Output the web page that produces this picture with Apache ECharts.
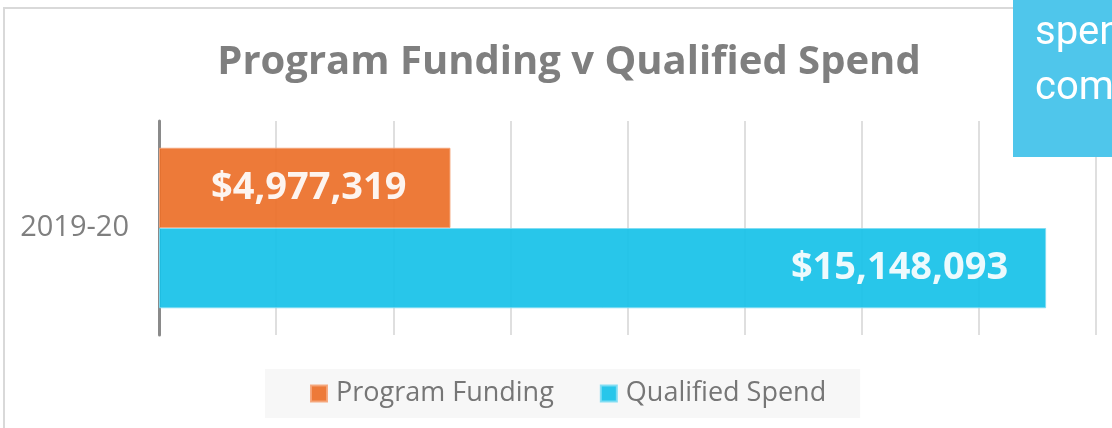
<!DOCTYPE html>
<html>
<head>
<meta charset="utf-8">
<script src="https://cdn.jsdelivr.net/npm/echarts@6/dist/echarts.min.js"></script>
<style>
  html, body { margin: 0; padding: 0; background: #fff; }
  #chart { width: 1112px; height: 428px; }
</style>
</head>
<body>
<div id="chart"></div>
<script>
// data
var categories = ['2019-20'];
var seriesNames = ['Program Funding', 'Qualified Spend'];
var programFunding = [4977319];
var qualifiedSpend = [15148093];
var axisMin = 0, axisMax = 16000000, axisStep = 2000000;
var noteLines = ['spen', 'com'];   // clipped callout box text, top right

function money(v) {
    return '$' + Number(v).toLocaleString('en-US');
}

var dom = document.getElementById('chart');
var myChart = echarts.init(dom);

var option = {
    animation: false,
    title: {
        text: 'Program Funding v Qualified Spend',
        left: 564,
        textAlign: 'center',
        top: 38,
        textStyle: {
            fontFamily: 'Open Sans',
            fontSize: 40,
            fontWeight: 'bold',
            color: '#7f7f7f'
        }
    },
    legend: {
        data: seriesNames,
        left: 265,
        bottom: 10,
        padding: [11, 34, 11, 45],
        backgroundColor: '#f7f7f7',
        itemWidth: 16,
        itemHeight: 16,
        itemGap: 46,
        icon: 'rect',
        textStyle: {
            fontFamily: 'Open Sans',
            fontSize: 27,
            color: '#767676',
            padding: [0, 0, 0, 4]
        }
    },
    grid: {
        left: 159,
        right: 16,
        top: 121,
        bottom: 93
    },
    xAxis: {
        type: 'value',
        min: axisMin,
        max: axisMax,
        interval: axisStep,
        axisLabel: { show: false },
        axisLine: { show: false },
        axisTick: { show: false },
        splitLine: { lineStyle: { color: '#d4d4d4', width: 1.5 } }
    },
    yAxis: {
        type: 'category',
        data: categories,
        inverse: true,
        axisTick: { show: false },
        axisLine: { lineStyle: { color: '#8a8a8a', width: 3 } },
        axisLabel: {
            margin: 30,
            fontFamily: 'Open Sans',
            fontSize: 29,
            color: '#7f7f7f'
        }
    },
    series: [
        {
            name: seriesNames[0],
            type: 'bar',
            data: programFunding,
            barGap: '0%',
            barCategoryGap: '25%',
            itemStyle: { color: '#ec6f28', opacity: 0.92, borderColor: '#f5a478', borderWidth: 1 },
            label: {
                show: true,
                position: 'inside',
                offset: [4, 0],
                formatter: function (p) { return money(p.value); },
                fontFamily: 'Open Sans',
                fontSize: 38,
                fontWeight: 'bold',
                color: '#fff'
            }
        },
        {
            name: seriesNames[1],
            type: 'bar',
            data: qualifiedSpend,
            itemStyle: { color: '#16c1e8', opacity: 0.92, borderColor: '#7fdcf3', borderWidth: 1 },
            label: {
                show: true,
                position: 'insideRight',
                distance: 38,
                formatter: function (p) { return money(p.value); },
                fontFamily: 'Open Sans',
                fontSize: 38,
                fontWeight: 'bold',
                color: '#fff'
            }
        }
    ],
    graphic: [
        {   // chart frame
            type: 'rect',
            z: -1,
            shape: { x: 4, y: 8, width: 1200, height: 500 },
            style: { fill: 'none', stroke: '#d9d9d9', lineWidth: 2 }
        },
        {   // callout box over the top right corner
            type: 'rect',
            z: 100,
            shape: { x: 1013, y: 0, width: 120, height: 157 },
            style: { fill: '#4fc6eb' }
        },
        {
            type: 'text',
            z: 101,
            left: 1035,
            top: 6,
            style: {
                text: noteLines.join('\n'),
                fontFamily: 'Roboto',
                fontSize: 40,
                lineHeight: 55,
                fill: '#fff'
            }
        }
    ]
};

if (option && typeof option === 'object') {
    myChart.setOption(option, true);
}
</script>
</body>
</html>
